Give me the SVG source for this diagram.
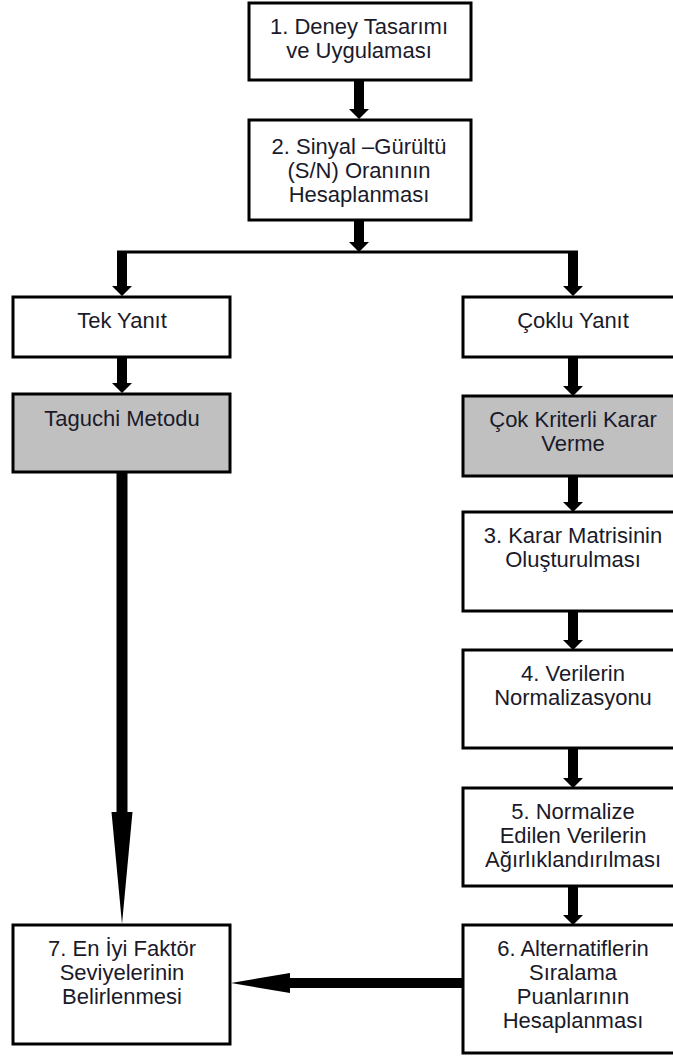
<svg xmlns="http://www.w3.org/2000/svg" width="673" height="1057" viewBox="0 0 673 1057">
<style>
.box{fill:#fff;stroke:#000;stroke-width:3}
.grey{fill:#c0c0c0}
.t{font-family:"Liberation Sans",Arial,sans-serif;font-size:22px;fill:#1a1a2a;text-anchor:middle}
.arr{fill:#000;stroke:none}
.ln{stroke:#000;stroke-width:3;fill:none}
</style>
<rect width="673" height="1057" fill="#fff"/>
<g id="connectors">
<path class="arr" d="M354 80H364V109H369L359 119L349 109H354Z"/>
<path class="arr" d="M354 220H364V242H369L359 252L349 242H354Z"/>
<path class="ln" d="M117 252H578"/>
<path class="arr" d="M117 252H127V286H132L122 296L112 286H117Z"/>
<path class="arr" d="M568 252H578V286H583L573 296L563 286H568Z"/>
<path class="arr" d="M117 357H127V383H132L122 393L112 383H117Z"/>
<path class="arr" d="M568 357H578V386H583L573 396L563 386H568Z"/>
<path class="arr" d="M568 476H578V502H583L573 512L563 502H568Z"/>
<path class="arr" d="M568 611H578V640H583L573 650L563 640H568Z"/>
<path class="arr" d="M568 748H578V778H583L573 788L563 778H568Z"/>
<path class="arr" d="M568 886H578V915H583L573 925L563 915H568Z"/>
<path class="arr" d="M116.5 472H127.5V812H132.5L122 924L111.5 812H116.5Z"/>
<path class="arr" d="M463 978V988H290V993L231 983L290 973V978Z"/>
</g>
<g id="n1">
<rect class="box" x="249" y="3" width="222" height="77"/>
<text class="t"><tspan x="359" y="34">1. Deney Tasarımı</tspan><tspan x="359" y="57.5">ve Uygulaması</tspan></text>
</g>
<g id="n2">
<rect class="box" x="249" y="120" width="222" height="100"/>
<text class="t"><tspan x="359" y="154">2. Sinyal –Gürültü</tspan><tspan x="359" y="178">(S/N) Oranının</tspan><tspan x="359" y="202">Hesaplanması</tspan></text>
</g>
<g id="tek">
<rect class="box" x="13" y="297" width="217" height="60"/>
<text class="t"><tspan x="122" y="328">Tek Yanıt</tspan></text>
</g>
<g id="coklu">
<rect class="box" x="463" y="297" width="220" height="60"/>
<text class="t"><tspan x="573" y="328">Çoklu Yanıt</tspan></text>
</g>
<g id="taguchi">
<rect class="box grey" x="13" y="394" width="217" height="78"/>
<text class="t"><tspan x="122" y="426">Taguchi Metodu</tspan></text>
</g>
<g id="ckkv">
<rect class="box grey" x="463" y="396" width="220" height="80"/>
<text class="t"><tspan x="573" y="427">Çok Kriterli Karar</tspan><tspan x="573" y="451">Verme</tspan></text>
</g>
<g id="n3">
<rect class="box" x="463" y="512" width="220" height="99"/>
<text class="t"><tspan x="573" y="543">3. Karar Matrisinin</tspan><tspan x="573" y="567">Oluşturulması</tspan></text>
</g>
<g id="n4">
<rect class="box" x="463" y="650" width="220" height="98"/>
<text class="t"><tspan x="573" y="681">4. Verilerin</tspan><tspan x="573" y="705">Normalizasyonu</tspan></text>
</g>
<g id="n5">
<rect class="box" x="463" y="788" width="220" height="98"/>
<text class="t"><tspan x="573" y="819">5. Normalize</tspan><tspan x="573" y="843">Edilen Verilerin</tspan><tspan x="573" y="867">Ağırlıklandırılması</tspan></text>
</g>
<g id="n6">
<rect class="box" x="463" y="925" width="220" height="128"/>
<text class="t"><tspan x="573" y="956">6. Alternatiflerin</tspan><tspan x="573" y="980">Sıralama</tspan><tspan x="573" y="1004">Puanlarının</tspan><tspan x="573" y="1028">Hesaplanması</tspan></text>
</g>
<g id="n7">
<rect class="box" x="13" y="925" width="217" height="119"/>
<text class="t"><tspan x="122" y="956">7. En İyi Faktör</tspan><tspan x="122" y="980">Seviyelerinin</tspan><tspan x="122" y="1004">Belirlenmesi</tspan></text>
</g>
</svg>
